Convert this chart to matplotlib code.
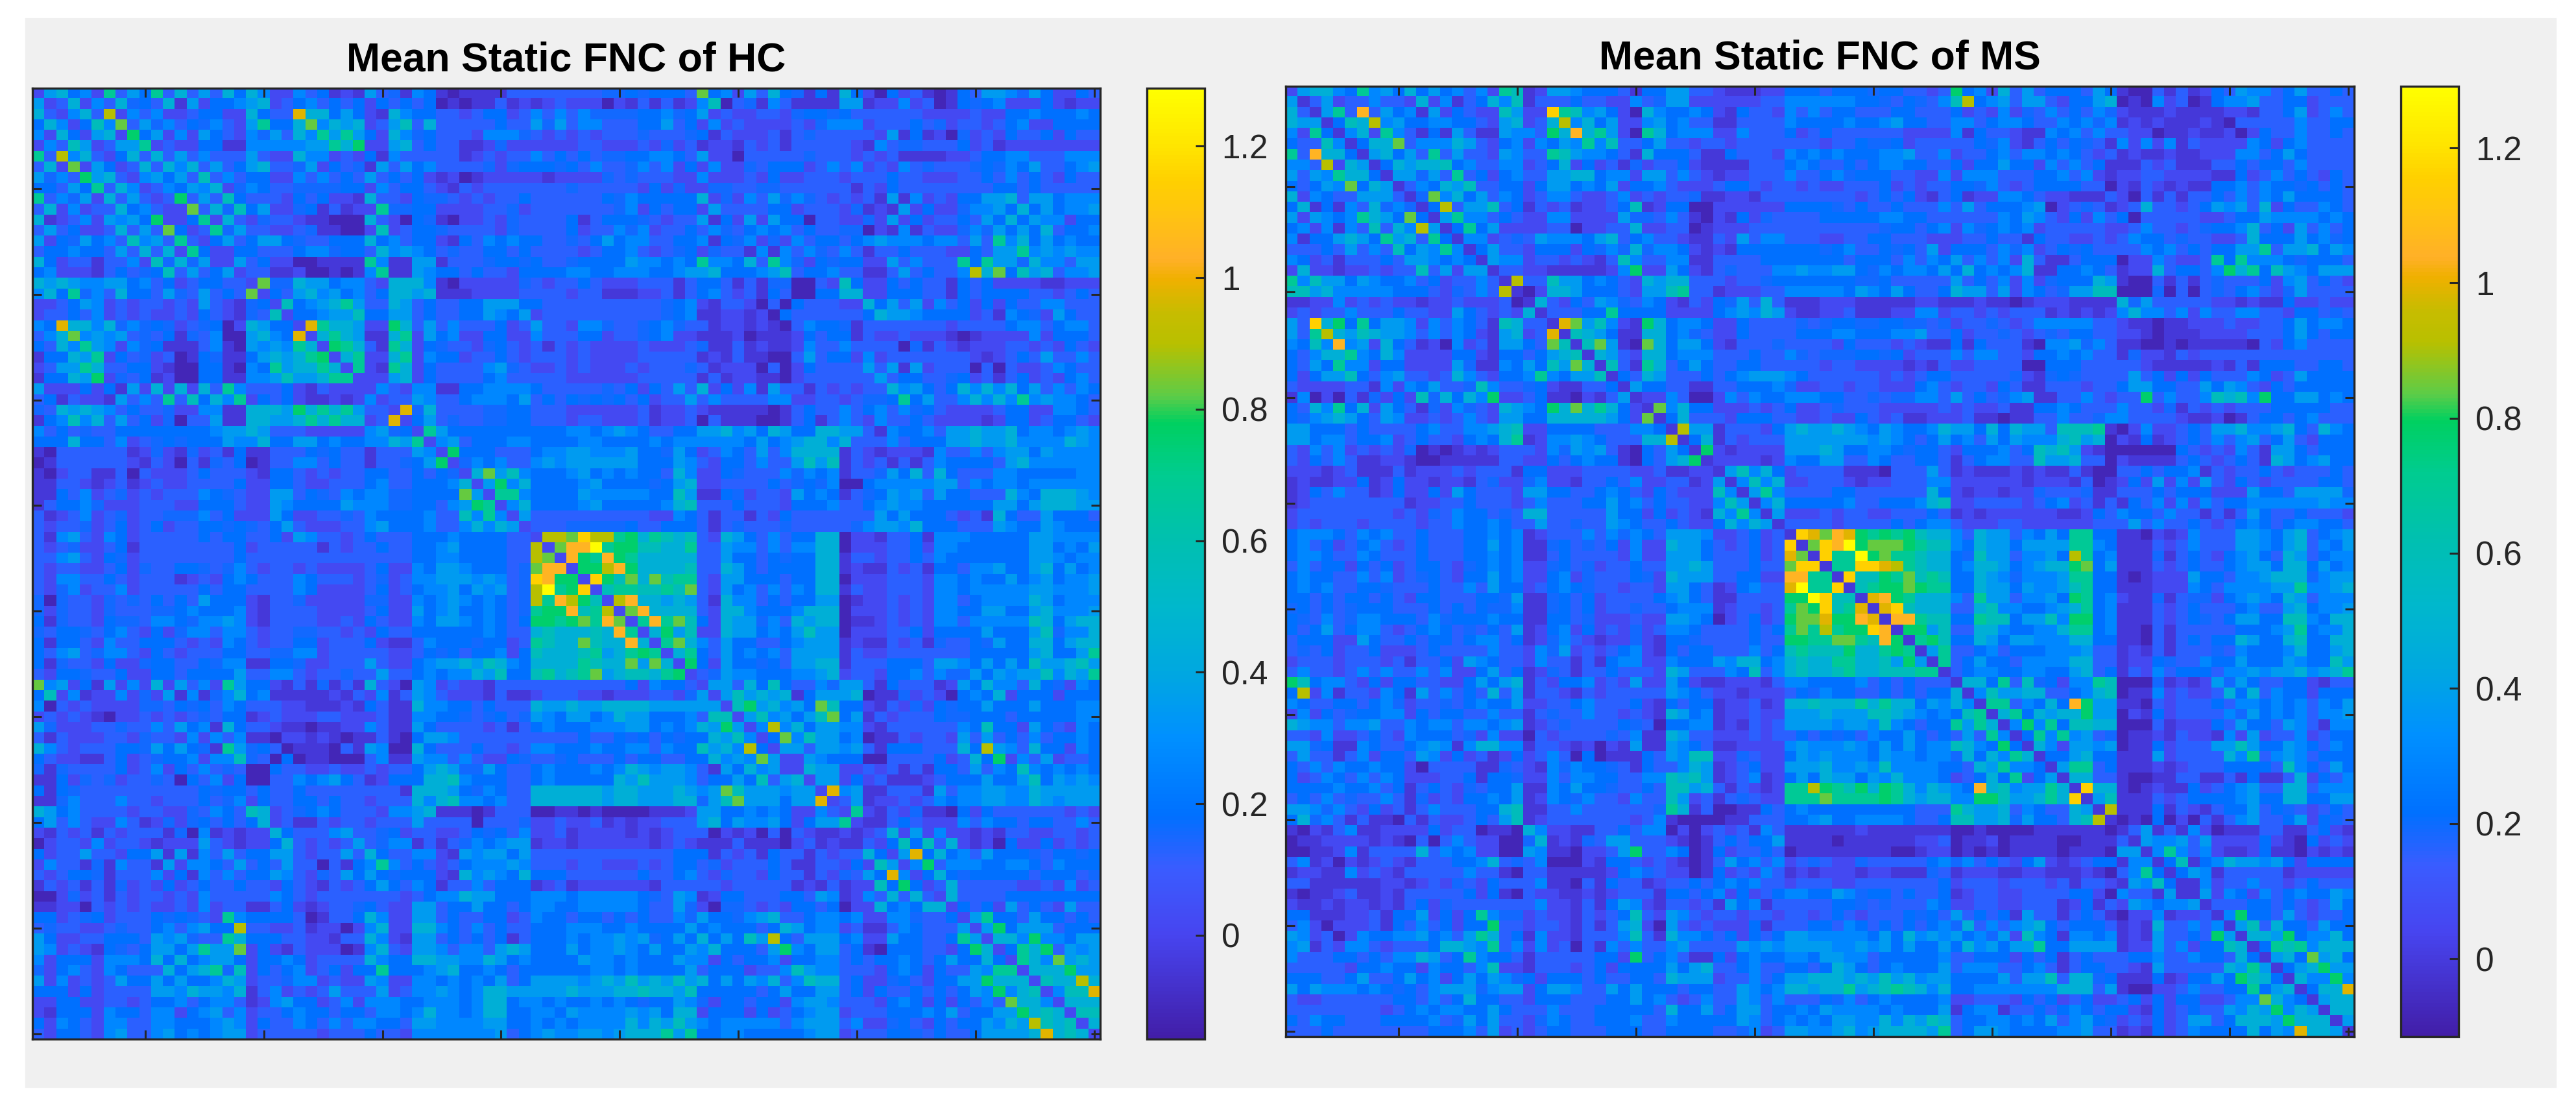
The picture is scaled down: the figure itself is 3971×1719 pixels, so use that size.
import numpy as np
import matplotlib
matplotlib.use("Agg")
import matplotlib.pyplot as plt
from matplotlib.colors import LinearSegmentedColormap
from matplotlib.patches import Rectangle

# ── Data ───────────────────────────────────────
# Each cell is one colour level, rows start at the diagonal.
CODES = "0123456789abcdefgh"
HC_LEVELS = [-0.12, -0.05, 0.02, 0.12, 0.155, 0.185, 0.27, 0.35, 0.45,
             0.56, 0.68, 0.76, 0.83, 0.90, 0.98, 1.04, 1.15, 1.28]
MS_LEVELS = [-0.078, -0.009, 0.058, 0.155, 0.189, 0.216, 0.30, 0.379, 0.476,
             0.584, 0.701, 0.778, 0.846, 0.915, 0.991, 1.051, 1.158, 1.284]

# rows 0-44, diagonal to column 44
HC_A = [
"27856 2a375 a3837 38586 22635 12173 41651 01111 33333",
"23826 38453 81725 56782 35635 35253 53501 01131 2123",
"26 83d26 36223 55228 533e8 85752 18655 33235 52363 6",
"2596c 37463 54632 7a558 c6878 23793 83333 35337 47",
"2782b 57262 75326 47386 a7a75 28645 33326 66432 3",
"2377a 23225 51166 66677 a8b22 78353 31124 22222",
"25838 37363 33732 28662 32516 33333 12323 3635",
"23838 68373 57833 47253 41737 56333 34245 554",
"26757 39363 55226 36353 73535 21201 22222 12",
"23657 68246 53344 44552 63553 21323 33333 3",
"23b37 39533 32535 22183 32544 32323 35333",
"22c38 49572 24513 122a4 45522 22334 2333",
"25a28 32433 21100 08320 54102 23243 333",
"23a47 33223 41100 29235 54333 32433 33",
"25735 77543 35558 56355 21536 56553 3",
"22553 33566 45538 67653 43355 35333",
"27352 20011 11a61 17713 33455 4533",
"23311 20010 16a11 76553 53325 555",
"2c448 77566 32888 61022 22243 23",
"25378 67563 58878 11122 22333 3",
"29567 8a733 87353 35577 75533",
"25567 79557 73533 55765 7233",
"2ea88 722b8 37363 33523 733",
"28a87 118a2 75622 55226 33",
"2ba83 1a825 43324 53231 3",
"28a22 8a265 52335 32333",
"2a21a 82533 33674 3223",
"22278 25333 35633 333",
"26326 61155 66665 33",
"23376 33566 65735 3",
"2e483 33344 55333",
"25734 33445 5333",
"2a755 55555 555",
"26735 55665 55",
"2b555 33356 6",
"24656 33676",
"28c79 6555",
"27b68 555",
"2aa6 555",
"26855 5",
"27333",
"2333",
"2dd",
"2c",
"2",
]

# rows 0-44, columns 45-89
HC_B = [
"33344 54555 3c562 73854 15185 20523 10153 77647 52253",
"22202 13131 26903 41631 11177 12262 30154 56222 52122",
"36444 45564 57232 23324 55453 33333 22223 22556 55565",
"36633 35573 52623 22223 24666 23335 34233 23562 25555",
"23233 34333 45132 22313 43333 32715 12042 32533 52533",
"23322 23242 31221 32313 33332 16344 33352 31222 22222",
"35344 55665 37220 33333 43332 32311 11223 55663 33666",
"53633 46362 52622 43555 23636 23263 43334 54657 33567",
"22243 43332 26222 32522 33323 33533 22233 53635 32533",
"43333 32524 22443 34433 33331 32533 33333 35535 33333",
"33354 65555 58242 63746 43232 31716 23255 77837 75666",
"33334 62535 52733 33552 33324 12172 52246 67585 75667",
"51355 54323 37152 72755 03322 42725 23353 75857 66255",
"52336 46233 53643 56563 53344 02161 32246 47575 83556",
"43575 66335 56154 62426 35535 67666 56637 3a685 75655",
"32355 63234 52433 16163 64363 13353 33225 377a6 76766",
"45555 76656 5a665 83a64 25455 22736 333a5 a7748 66377",
"66556 66556 77855 56793 55633 11373 5336d 8c597 83667",
"35322 23331 35531 31440 03295 22535 33153 52222 11222",
"23311 12231 35632 31530 05588 22555 33153 55553 32353",
"33333 33345 62133 20305 33322 85737 26352 52533 66333",
"33333 33345 61122 12053 33333 58776 55552 31654 27533",
"26643 34564 33122 12103 65541 33333 33233 33566 35663",
"35523 34562 21112 01112 53551 32232 22101 22226 25553",
"23222 23222 34113 12112 63363 33304 13212 22332 32532",
"23222 23333 31213 11003 73552 62333 33332 12353 73363",
"23222 32333 43122 20302 53333 73717 23330 30322 36533",
"22222 23333 31312 21102 33333 37355 33452 31352 32563",
"33343 52537 38252 61733 13232 33867 53586 86857 36365",
"54545 35233 73633 33662 23323 445a5 73368 686a6 76653",
"22222 23122 32111 11013 53363 56364 53222 23552 26653",
"23322 23122 30311 10013 51363 26335 32222 12552 35532",
"66567 65335 57786 75875 58877 31655 63778 77856 65676",
"56655 55656 66666 57567 88683 33635 55778 77866 66876",
"77666 75547 52365 37368 88813 21222 16336 36775 76666",
"77777 75557 63255 36337 97913 23131 36555 53786 66666",
"67565 65538 62254 33364 65613 34758 38533 36655 55566",
"56755 55457 82233 33534 54600 56666 67736 56656 66666",
"57666 66559 71154 23327 56513 45767 37553 33865 88876",
"56755 55568 93335 33325 55633 56766 55555 57757 88877",
"33333 33226 53133 13253 33333 37575 55323 18533 75553",
"44444 53355 53134 33343 33334 67768 55533 37655 76555",
"cgdda b8a98 93287 53635 58802 21335 16665 55557 76666",
"ffhab b9988 a3376 63636 68802 22335 26655 55557 75657",
"fbafb a8888 83375 53545 58813 32335 36555 55557 76566",
]

# rows 45-89, diagonal to column 89
HC_C = [
"2bbdf b8888 93387 53555 58812 11323 15536 67557 85756",
"2gb9c 8c9aa 32775 55355 88022 23332 66565 57567 5667",
"29aa9 9a9c3 27563 63658 81322 33326 65666 66776 667",
"2df88 78731 86635 35577 01223 23266 35666 68756 66",
"2cf88 88328 86555 68880 22232 32665 57755 78666 7",
"2afac 95287 74638 78801 12323 26636 66669 85788",
"28b79 22877 56579 77022 23352 55557 55579 4668",
"2ac86 37553 35677 71211 32314 33547 55885 788",
"28a53 75656 37777 13223 33333 35555 57855 7a",
"2b527 55453 77881 33355 53776 57575 97789 7",
"23476 65556 67823 32556 36447 57677 9687a",
"27738 59533 64773 15333 12758 66385 4265",
"27978 78157 77801 14232 05658 25552 555",
"29b78 675c9 55213 24254 55755 57555 66",
"27967 579c5 71323 33544 55535 55556 6",
"26d68 57766 21333 33365 95527 53265",
"25c69 77560 11323 32737 35363 5565",
"27737 76731 55533 385d7 63855 265",
"22765 55003 33352 385b2 63723 35",
"28772 23231 31553 73659 65656 5",
"27725 23111 23555 75579 57676",
"2e671 13331 73667 76687 7777",
"23712 23236 56677 66876 777",
"2a213 24110 52533 33332 32",
"21135 32226 36553 55336 3",
"23827 26221 21332 23323",
"25959 38212 05225 2323",
"27e58 56375 55435 545",
"26b36 66556 65365 55",
"25854 55555 35553 4",
"23833 33322 32623",
"28333 35555 5555",
"25352 73532 733",
"27a55 37553 53",
"27b57 77355 5",
"2886b 66577",
"25a8b 3767",
"2a86c 787",
"2888b 77",
"2988d 8",
"2699e",
"2888",
"299",
"28",
"2",
]

MS_A = [
"27886 5a675 85756 362a9 12776 55531 55773 32111 22555",
"13723 36332 82613 58691 33353 32263 47722 22223 3666",
"17a3f 37561 72532 29722 ga967 52086 55652 15332 636",
"1598d 67556 65532 78238 d6857 22675 63311 33336 55",
"1682a 63151 73117 663b8 f8a72 0a856 66226 33352 3",
"1588c 36668 73256 26576 a6933 57332 33233 33333",
"17857 3a373 32763 3a976 65318 55531 15333 2656",
"15878 89563 36623 58252 31423 35211 11333 565",
"17747 3a352 56337 78856 62773 63212 23336 33",
"13658 79335 52577 56572 55632 22355 32332 3",
"14c68 57365 23663 22362 32334 11221 33333",
"15d37 79351 32312 23591 25500 22222 2555",
"17a66 35322 66222 27443 63102 15243 333",
"15a57 22223 30223 38223 30122 23333 33",
"16623 43766 65783 56332 11327 36633 3",
"15733 25552 54648 46652 12155 55555",
"17662 33232 13963 36611 33335 5555",
"13322 11111 26b22 75213 43336 676",
"1d339 77565 32878 83332 33455 55",
"10288 75553 2779a 33122 23366 6",
"18325 37643 65213 25473 83111",
"13335 5a555 52222 56768 7211",
"1ec79 621b8 56652 25333 343",
"19875 11885 64322 53333 55",
"19c71 0c857 75213 33433 3",
"18732 88566 63335 33643",
"1931a 83575 33553 3333",
"15387 33353 56777 653",
"17553 31133 55564 22",
"12263 00263 65566 6",
"1c685 52223 23522",
"15833 32555 3322",
"1d771 33325 787",
"15813 23337 77",
"1b212 22277 7",
"12222 12655",
"17968 5233",
"16968 223",
"17a6 333",
"16855 5",
"17222",
"1333",
"1ge",
"1c",
"1",
]

MS_B = [
"35554 55332 3b562 83735 55375 10031 31253 76635 73353",
"66655 43543 69d56 73773 25578 01062 30156 67335 52333",
"35533 35533 35232 62436 35364 21112 11112 21335 72363",
"55655 67553 36635 66533 65646 12121 11210 33333 63355",
"53333 33222 26153 32116 56363 32201 12112 02533 63353",
"23354 45233 33354 62135 35431 62626 13222 26525 63333",
"56555 66733 62335 63665 65323 12112 11222 66357 53333",
"33535 66553 35255 75526 36351 11323 11133 53553 63333",
"56455 53322 62666 33355 63621 22332 22211 52363 53253",
"22333 52323 35546 32355 55330 21321 21155 63655 45353",
"33323 53521 35122 66532 21113 20313 13353 63657 55553",
"54353 35333 63735 55670 23431 23833 23576 73825 33653",
"55555 66553 33333 65763 25263 50333 33223 55766 66565",
"33333 45535 62645 65623 33332 23633 23455 68352 73635",
"22335 53332 22335 33153 32232 36553 43322 38555 75645",
"45633 54537 25553 64623 54533 33656 35355 77a37 78576",
"55355 53636 57363 62831 13555 02263 223a5 a6665 45553",
"67754 65665 75856 56811 55653 12283 5536b 8a597 65777",
"55544 53333 37353 62624 55587 10031 31343 33526 73532",
"66576 57533 58773 72653 47799 00040 30343 56324 73333",
"22211 11122 11121 10122 21111 84733 33322 12115 22322",
"22311 12266 23323 23331 21212 68663 62633 66332 55343",
"45544 55443 42334 32366 66633 21101 12223 22335 75665",
"56655 56673 35233 43234 35533 22101 11222 23335 75355",
"32533 32321 15153 33106 67463 11001 01111 10325 63333",
"44455 45233 36366 33255 65633 14221 32333 33333 33333",
"23322 22121 32233 33005 55333 33211 11121 31555 33553",
"33333 23235 53333 34214 54333 37352 52533 36523 75555",
"33233 22256 32332 53113 33233 57755 33757 63253 55555",
"55334 34466 37353 46711 33632 33b36 33698 96b55 77565",
"34333 22222 32322 31155 65333 63324 13232 33355 55533",
"32253 23112 22311 01133 63346 63333 21120 13553 56333",
"78765 76556 87758 58773 999a1 02622 35377 86678 53865",
"77776 76535 75637 57666 89780 21512 35363 67357 32555",
"87556 65455 32555 63598 97210 00000 53232 63177 53555",
"77336 53355 31356 63397 78330 21111 35323 53187 56755",
"33111 03337 31211 12121 13100 33535 56132 33532 33353",
"33212 23336 62222 22122 21301 25272 62732 53233 33553",
"35533 33338 52122 12243 33411 33353 55522 27553 77774",
"55633 55568 92233 33235 62313 15362 62635 56666 66766",
"32332 23335 31212 22222 11253 65536 33131 37533 53332",
"32333 35356 63222 33222 22233 37363 35323 56535 66553",
"cfeba bab98 86387 73657 5aa55 11021 26333 77657 83567",
"gfhbc ccba9 96587 75777 7aa65 11132 36333 77657 83657",
"gaahb caa98 85497 73667 5da56 11141 35325 67538 73566",
]

MS_C = [
"1aagg eda98 85688 75678 8bc57 11132 35335 67758 85756",
"1g99b ac9a9 55876 46667 aa551 01222 75536 67888 4677",
"19abb cbaa5 58775 76679 a5511 12226 53666 677a6 678",
"1efba 88863 a7736 675ba 56211 41344 25676 58736 66",
"1eg98 88338 96655 678a5 61113 23533 35633 78566 7",
"1ffa9 955a9 95779 6bb56 11132 35435 77559 96588",
"1bb79 33886 55668 aa561 10313 33335 5567a 5668",
"1ab95 58757 76668 85511 03135 35587 55895 588",
"17a33 56355 56667 33121 31333 43655 56855 78",
"1a357 55366 66883 31225 43365 57555 76559 7",
"13566 55665 57835 13263 55536 67677 8678a",
"1885a 39452 66a90 00412 12747 53355 2133",
"16977 88335 68901 16232 23858 36552 555",
"1aa36 585fb 77110 32333 53665 65636 57",
"18a58 788b7 70215 23333 64756 56366 7",
"16b6a 59988 00031 22253 75537 63166",
"15a6a 67340 11213 22162 72336 2355",
"18627 76701 15233 37797 55765 365",
"15578 55111 72333 386a3 67635 55",
"17aa3 51112 12333 55553 96537 5",
"18833 10011 33113 15113 82536",
"1g881 01211 52356 73388 3666",
"17911 13235 55567 55885 577",
"1d111 51321 35573 54323 53",
"10105 02031 36733 57254 3",
"13713 16201 11331 13521",
"17667 37222 25210 5232",
"16a63 62112 51102 121",
"15915 68776 75255 55",
"15761 33333 12222 2",
"11623 36332 35333",
"17265 26356 5576",
"13335 53532 375",
"16b55 37323 35",
"17938 55375 5",
"1887b 56685",
"15a9a 6888",
"1785c 785",
"1578b 77",
"1866b 6",
"1588e",
"1788",
"188",
"17",
"1",
]

CB_TICKS = [0, 0.2, 0.4, 0.6, 0.8, 1, 1.2]
CB_LABELS = ["0", "0.2", "0.4", "0.6", "0.8", "1", "1.2"]
MAT_TICKS = list(range(10, 100, 10))

W, H = 3971, 1719
N = 90


def build(top, right, bottom, levels):
    m = np.zeros((N, N))
    for r in range(N):
        if r < 45:
            a = top[r].replace(" ", "").ljust(45 - r, "3")[:45 - r]
            b = right[r].replace(" ", "").ljust(45, "3")[:45]
            s = a + b
        else:
            s = bottom[r - 45].replace(" ", "").ljust(N - r, "3")[:N - r]
        vals = [levels[CODES.index(c)] for c in s]
        m[r, r:] = vals
        m[r:, r] = vals
    return m


hc = build(HC_A, HC_B, HC_C, HC_LEVELS)
ms = build(MS_A, MS_B, MS_C, MS_LEVELS)

# ── Colormap taken from the colorbar ───────────
stops = [(-0.158, "#421ea8"), (0.0, "#4745f0"), (0.1, "#3a5cff"), (0.18, "#0070ff"),
         (0.3, "#0090ff"), (0.4, "#00a8e0"), (0.5, "#00b8cc"), (0.6, "#00c0b0"),
         (0.7, "#00cc90"), (0.78, "#00d060"), (0.82, "#5ccc48"), (0.9, "#b8c000"),
         (0.95, "#c8bc00"), (1.0, "#f0b000"), (1.03, "#ffb028"), (1.1, "#ffc410"),
         (1.15, "#ffd000"), (1.2, "#ffe400"), (1.288, "#ffff00")]
cmap = LinearSegmentedColormap.from_list(
    "fnc", [((v + 0.158) / 1.446, c) for v, c in stops], N=256)

# ── Plot ───────────────────────────────────────
plt.rcParams["font.family"] = ["Liberation Sans", "DejaVu Sans"]
fig = plt.figure(figsize=(W / 100, H / 100), dpi=100, facecolor="white")
fig.add_artist(Rectangle((39 / W, 1 - 1676 / H), (3940 - 39) / W, (1676 - 28) / H,
                         transform=fig.transFigure, color="#f0f0f0", zorder=-1))


def px_axes(x0, y0, x1, y1):
    return fig.add_axes([x0 / W, 1 - y1 / H, (x1 - x0) / W, (y1 - y0) / H])


def panel(data, title, box, cbox, vmin, vmax):
    ax = px_axes(*box)
    im = ax.imshow(data, cmap=cmap, vmin=vmin, vmax=vmax, aspect="auto",
                   interpolation="nearest", extent=(0.5, N + 0.5, N + 0.5, 0.5))
    ax.set_xticks(MAT_TICKS)
    ax.set_yticks(MAT_TICKS)
    ax.tick_params(direction="in", length=10, width=2.2, color="#262626",
                   top=True, right=True, labelbottom=False, labelleft=False)
    for s in ax.spines.values():
        s.set_linewidth(2.4)
        s.set_color("#262626")
    ax.set_title(title, fontsize=45, fontweight="bold", pad=19, color="black")

    cax = px_axes(*cbox)
    cb = fig.colorbar(im, cax=cax)
    cb.set_ticks(CB_TICKS)
    cb.set_ticklabels(CB_LABELS)
    cax.tick_params(direction="in", length=10, width=2.2, color="#262626",
                    labelsize=37, labelcolor="#262626", pad=19)
    cb.outline.set_linewidth(2.4)
    cb.outline.set_edgecolor("#262626")


panel(hc, "Mean Static FNC of HC", (50, 136, 1696, 1602), (1768, 136, 1857, 1602), -0.158, 1.288)
panel(ms, "Mean Static FNC of MS", (1982, 133, 3629, 1598), (3701, 133, 3790, 1598), -0.115, 1.291)

plt.savefig("out.png", dpi=100)
